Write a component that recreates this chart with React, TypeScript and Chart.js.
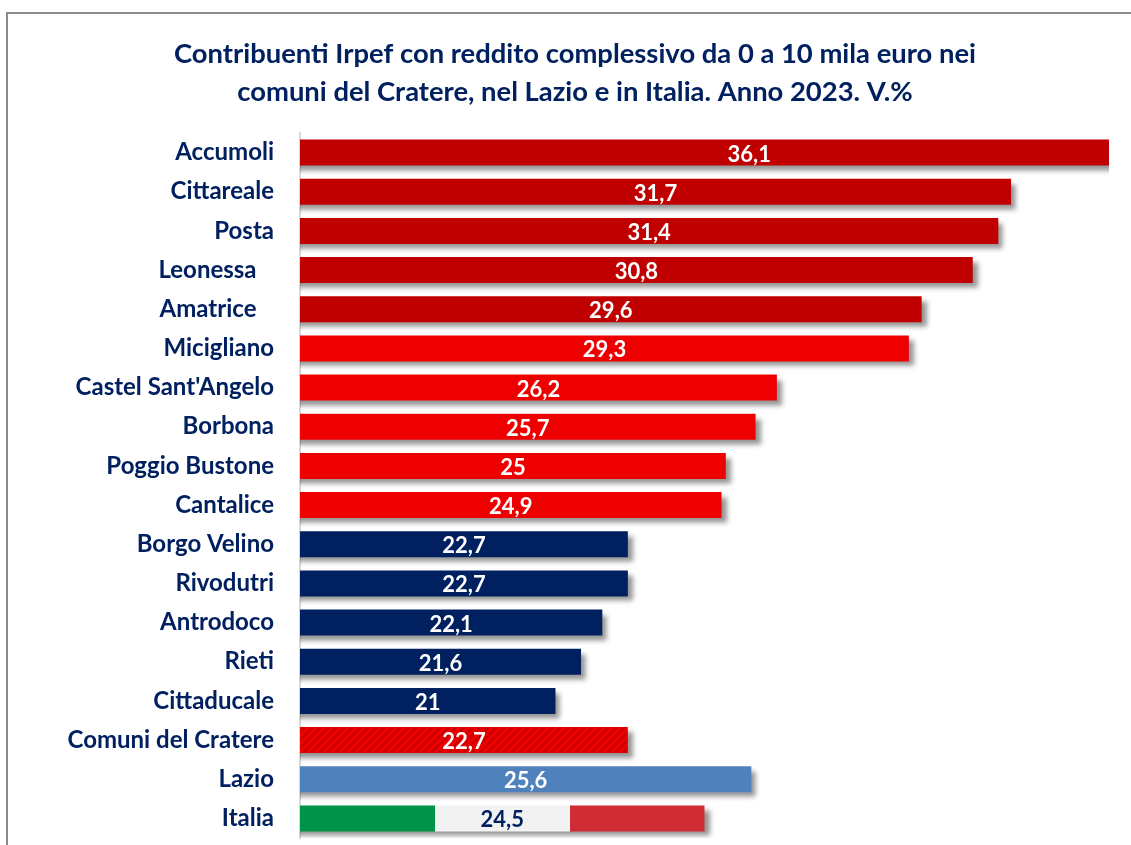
import React, { useEffect, useRef } from "react";
import { Chart, registerables } from "chart.js";

Chart.register(...registerables);

const categories = [
  "Accumoli",
  "Cittareale",
  "Posta",
  "Leonessa   ",
  "Amatrice   ",
  "Micigliano",
  "Castel Sant'Angelo",
  "Borbona",
  "Poggio Bustone",
  "Cantalice",
  "Borgo Velino",
  "Rivodutri",
  "Antrodoco",
  "Rieti",
  "Cittaducale",
  "Comuni del Cratere",
  "Lazio",
  "Italia",
];

const values = [36.1, 31.7, 31.4, 30.8, 29.6, 29.3, 26.2, 25.7, 25, 24.9, 22.7, 22.7, 22.1, 21.6, 21, 22.7, 25.6, 24.5];

const axisMin = 15;
const axisMax = 34;

const titleLines = [
  "Contribuenti Irpef con reddito complessivo da 0 a 10 mila euro nei",
  "comuni del Cratere, nel Lazio e in Italia. Anno 2023. V.%",
];

// style groups (one per bar)
const barKinds = [
  "dark", "dark", "dark", "dark", "dark",
  "red", "red", "red", "red", "red",
  "navy", "navy", "navy", "navy", "navy",
  "hatch", "lazio", "italia",
];

const NAVY = "#002060";
const FONT = "Lato, 'Open Sans', sans-serif";

function makeHatch(): CanvasPattern | string {
  const c = document.createElement("canvas");
  c.width = 8;
  c.height = 8;
  const x = c.getContext("2d");
  if (!x) return "#EE0000";
  x.fillStyle = "#EE0000";
  x.fillRect(0, 0, 8, 8);
  x.strokeStyle = "#C80000";
  x.lineWidth = 2.2;
  x.beginPath();
  x.moveTo(-2, 2); x.lineTo(2, -2);
  x.moveTo(0, 8); x.lineTo(8, 0);
  x.moveTo(6, 10); x.lineTo(10, 6);
  x.stroke();
  return x.createPattern(c, "repeat") || "#EE0000";
}

export default function App() {
  const ref = useRef<HTMLCanvasElement | null>(null);

  useEffect(() => {
    if (!ref.current) return;
    const hatch = makeHatch();

    const colorFor = (ctx: any) => {
      const kind = barKinds[ctx.dataIndex];
      if (kind === "dark") return "#C00000";
      if (kind === "red") return "#EE0000";
      if (kind === "navy") return NAVY;
      if (kind === "hatch") return hatch;
      if (kind === "lazio") return "#4F81BD";
      const xs = ctx.chart.scales?.x;
      if (!xs) return "#F2F2F2";
      const x0 = xs.getPixelForValue(axisMin);
      const x1 = xs.getPixelForValue(values[ctx.dataIndex]);
      const g = ctx.chart.ctx.createLinearGradient(x0, 0, x1, 0);
      g.addColorStop(0, "#00944A");
      g.addColorStop(1 / 3, "#00944A");
      g.addColorStop(1 / 3, "#F2F2F2");
      g.addColorStop(2 / 3, "#F2F2F2");
      g.addColorStop(2 / 3, "#D12B36");
      g.addColorStop(1, "#D12B36");
      return g;
    };

    const barPlugin = {
      id: "shadowAndLabels",
      beforeDatasetsDraw(chart: any) {
        const c = chart.ctx;
        c.save();
        c.shadowColor = "rgba(0,0,0,0.42)";
        c.shadowBlur = 5;
        c.shadowOffsetX = 5;
        c.shadowOffsetY = 5;
      },
      afterDatasetsDraw(chart: any) {
        const c = chart.ctx;
        c.restore();
        const xs = chart.scales.x;
        const meta = chart.getDatasetMeta(0);
        c.save();
        c.font = `bold 22px ${FONT}`;
        c.textAlign = "center";
        c.textBaseline = "alphabetic";
        meta.data.forEach((bar: any, i: number) => {
          const v = values[i];
          const cx = (xs.getPixelForValue(axisMin) + xs.getPixelForValue(v)) / 2;
          c.fillStyle = barKinds[i] === "italia" ? NAVY : "#FFFFFF";
          c.fillText(String(v).replace(".", ","), cx, bar.y + 9);
        });
        c.restore();
      },
    };

    const chart = new Chart(ref.current, {
      type: "bar",
      data: {
        labels: categories,
        datasets: [
          {
            data: values,
            backgroundColor: colorFor as any,
            borderWidth: 0,
            barPercentage: 0.665,
            categoryPercentage: 1,
          },
        ],
      },
      options: {
        indexAxis: "y",
        responsive: false,
        animation: false,
        layout: { padding: { left: 41, right: 22, top: 0, bottom: 7 } },
        plugins: {
          legend: { display: false },
          tooltip: { enabled: false },
          title: {
            display: true,
            text: titleLines,
            color: NAVY,
            font: { family: FONT, size: 27.4, weight: "bold", lineHeight: 38 / 27.4 },
            padding: { top: 35, bottom: 22 },
          },
        },
        scales: {
          x: {
            display: false,
            min: axisMin,
            max: axisMax,
          },
          y: {
            grid: {
              display: true,
              drawOnChartArea: false,
              drawTicks: true,
              tickLength: 26,
              color: "rgba(0,0,0,0)",
            },
            border: { display: true, color: "#D9D9D9", width: 2 },
            ticks: {
              color: NAVY,
              padding: 0,
              font: { family: FONT, size: 24, weight: "bold", lineHeight: 0.5 },
              autoSkip: false,
            },
            afterFit(scale: any) {
              scale.width = 259;
            },
          },
        },
      },
      plugins: [barPlugin],
    });

    return () => chart.destroy();
  }, []);

  return (
    <div style={{ position: "fixed", inset: 0, overflow: "hidden", background: "#fff" }}>
      <div
        style={{
          position: "absolute",
          left: 6,
          top: 12,
          width: 1400,
          height: 1100,
          border: "2px solid #8c8c8c",
        }}
      />
      <canvas
        ref={ref}
        width={1131}
        height={845}
        style={{ position: "absolute", left: 0, top: 0, width: 1131, height: 845 }}
      />
    </div>
  );
}
